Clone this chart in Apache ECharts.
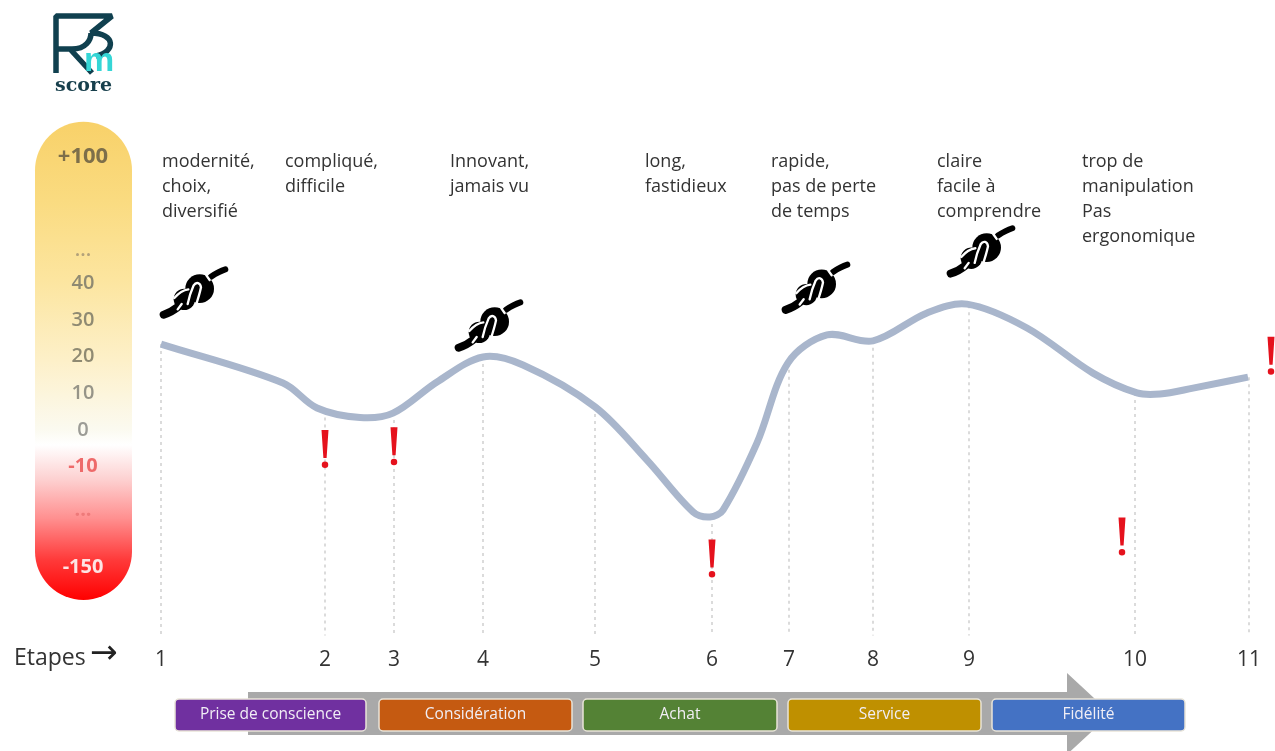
<!DOCTYPE html>
<html lang="fr">
<head>
<meta charset="utf-8">
<title>R3m score</title>
<style>
html,body{margin:0;padding:0;background:#fff}
#chart{width:1275px;height:751px}
</style>
<script src="https://cdn.jsdelivr.net/npm/echarts@6/dist/echarts.min.js"></script>
</head>
<body>
<div id="chart"></div>
<script>
// Parcours client : étapes, score de satisfaction et verbatims.
const stepLabels = ['1','2','3','4','5','6','7','8','9','10','11'];
const stepPos = [0,164,233,322,434,551,628,712,808,974,1088];
const stepScore = [23.4,5.3,4.6,19.9,6.3,-23.7,18.3,24.3,34.0,10.1,14.4];

const curvePos = [0,122,156,199,232,276,322,362,434,486,532,549,562,596,627,666,712,766,806,866,932,976,999,1032,1087];
const curveScore = [23.4,12.8,6.0,3.4,4.6,13.1,19.9,17.7,6.3,-8.2,-22.3,-23.7,-21.8,-3.5,18.3,25.9,24.3,31.9,34.3,27.8,15.5,10.1,9.8,11.4,14.4];

const commentTexts = [
  'modernité,\nchoix,\ndiversifié',
  'compliqué,\ndifficile',
  'Innovant,\njamais vu',
  'long,\nfastidieux',
  'rapide,\npas de perte\nde temps',
  'claire\nfacile à\ncomprendre',
  'trop de\nmanipulation\nPas\nergonomique'
];
const commentPos = [1,124,289,484,610,776,921];
const commentLevel = [76.4,76.4,76.4,76.4,76.4,76.4,76.4];

const knotPos = [34,329,656,821];
const knotLevel = [37.6,28.6,38.9,48.8];

const alertPos = [164,233,551,961,1110];
const alertLevel = [-5.2,-4.4,-35,-29,20.2];

const scaleLabels = ['+100','...','40','30','20','10','0','-10','...','-150'];
const scaleLevels = [74.4,49,40,30,20,10,0,-10,-22,-37.5];
const scaleSizes = [22,20,20,20,20,20,20,20,20,20];
const scaleColors = ['#7d6f4a','#b3a27a','#8f8a72','#8f8a72','#8f8a72','#969488','#9c9c96','#ee6a6a','#ee7a7a','#fde4e4'];
const gaugeTop = 84;
const gaugeBottom = -46.3;
const gaugeLeft = -126;
const gaugeRight = -29;
const gaugeCenter = -78;

const stageNames = ['Prise de conscience','Considération','Achat','Service','Fidélité'];
const stageStart = [14,218,422,627,831];
const stageEnd = [205,411,616,820,1024];
const stageColors = ['#7030a0','#c55a11','#548235','#bf9000','#4472c4'];
const stageTop = -73.3;
const stageBottom = -82;

const arrowPoints = [[87,-71.4],[906,-71.4],[906,-66.2],[950,-77.3],[906,-88.4],[906,-83.1],[87,-83.1]];

const bodyFont = '"Open Sans", sans-serif';

const knotTailLow = 'M-94 68C-76 62-62 54-50 44';
const knotTailHigh = 'M48-46C60-54 72-62 91-68';
const knotLines = 'M-22 36C-18 16-12-2-4-20C4-32 16-28 18-14C14 6 8 24 2 42M-62 18C-50 4-36-6-20-8M-52 52L-40 36M34-50L44-36';
const alertShape = 'path://M0.5 0H7.5L5.6 28H2.4ZM4 31.5A3.2 3.2 0 1 1 4 38A3.2 3.2 0 1 1 4 31.5Z';

// Trace une spline cubique passant par les points de la courbe, exprimés en pixels.
function splinePath(pts){
  const n=pts.length,t=[0];
  for(let i=1;i<n;i++) t[i]=t[i-1]+Math.hypot(pts[i][0]-pts[i-1][0],pts[i][1]-pts[i-1][1]);
  const slope=i=>{
    const a=pts[Math.max(i-1,0)],b=pts[Math.min(i+1,n-1)],dt=t[Math.min(i+1,n-1)]-t[Math.max(i-1,0)];
    return [(b[0]-a[0])/dt,(b[1]-a[1])/dt];
  };
  let d='M'+pts[0][0]+' '+pts[0][1];
  for(let i=0;i<n-1;i++){
    const h=(t[i+1]-t[i])/3,m0=slope(i),m1=slope(i+1);
    d+='C'+(pts[i][0]+m0[0]*h)+' '+(pts[i][1]+m0[1]*h)+' '+(pts[i+1][0]-m1[0]*h)+' '+(pts[i+1][1]-m1[1]*h)+' '+pts[i+1][0]+' '+pts[i+1][1];
  }
  return d;
}

const chart = echarts.init(document.getElementById('chart'), null, {renderer:'canvas'});

chart.setOption({
  animation:false,
  backgroundColor:'#ffffff',
  grid:{left:0,top:99.7,width:1275,height:535.82},
  xAxis:{
    type:'value',min:-161,max:1114,
    axisLine:{show:false},axisTick:{show:false},splitLine:{show:false},
    axisLabel:{
      customValues:stepPos,
      margin:14,fontSize:21,color:'#333333',fontFamily:bodyFont,
      formatter:v=>stepLabels[stepPos.indexOf(v)]
    }
  },
  yAxis:{
    type:'value',min:-56,max:90,
    axisLine:{show:false},axisTick:{show:false},splitLine:{show:false},
    axisLabel:{show:false}
  },
  graphic:[
    {type:'text',left:14,top:647,style:{text:'Etapes',fontSize:23,fontFamily:bodyFont,fill:'#333'}},
    {type:'text',left:90,top:638,style:{text:'→',fontSize:33,fontFamily:'"DejaVu Sans"',fill:'#222'}}
  ],
  series:[
    { // échelle de score
      type:'custom',z:1,silent:true,clip:false,
      data:[[gaugeLeft,gaugeTop]],
      renderItem:(p,api)=>{
        const a=api.coord([gaugeLeft,gaugeTop]),b=api.coord([gaugeRight,gaugeBottom]);
        const w=b[0]-a[0];
        return {type:'rect',shape:{x:a[0],y:a[1],width:w,height:b[1]-a[1],r:w/2},style:{
          fill:new echarts.graphic.LinearGradient(0,0,0,1,[
            {offset:0,color:'#f8d169'},{offset:.163,color:'#fadb80'},{offset:.33,color:'#fce59f'},
            {offset:.5,color:'#fdf0c9'},{offset:.644,color:'#fbfaf0'},{offset:.676,color:'#ffffff'},
            {offset:.749,color:'#fdd0d0'},{offset:.83,color:'#ff8f8f'},{offset:.916,color:'#ff3a3a'},
            {offset:1,color:'#ff0000'}])
        }};
      }
    },
    { // graduations de l'échelle
      type:'custom',z:2,silent:true,clip:false,
      data:scaleLevels.map(v=>[gaugeCenter,v]),
      renderItem:(p,api)=>{
        const i=p.dataIndex,c=api.coord([gaugeCenter,scaleLevels[i]]);
        return {type:'text',style:{text:scaleLabels[i],x:c[0],y:c[1],align:'center',verticalAlign:'middle',
          fontSize:scaleSizes[i],fontWeight:(i===0||i>=7)?700:600,fontFamily:bodyFont,fill:scaleColors[i]}};
      }
    },
    { // flèche du parcours
      type:'custom',z:1,silent:true,clip:false,
      data:[[0,0]],
      renderItem:(p,api)=>({type:'polygon',shape:{points:arrowPoints.map(q=>api.coord(q))},style:{fill:'#a9a9a9'}})
    },
    { // phases du parcours
      type:'custom',z:2,silent:true,clip:false,
      data:stageNames.map((n,i)=>[stageStart[i],stageTop]),
      renderItem:(p,api)=>{
        const i=p.dataIndex;
        const a=api.coord([stageStart[i],stageTop]),b=api.coord([stageEnd[i],stageBottom]);
        return {type:'group',children:[
          {type:'rect',shape:{x:a[0],y:a[1],width:b[0]-a[0],height:b[1]-a[1],r:4},
           style:{fill:stageColors[i],stroke:'#e9e4d8',lineWidth:1.5}},
          {type:'text',style:{text:stageNames[i],x:(a[0]+b[0])/2,y:(a[1]+b[1])/2,align:'center',verticalAlign:'middle',
            fontSize:15.5,fontFamily:bodyFont,fill:'#f1eef5'}}
        ]};
      }
    },
    { // repères verticaux des étapes
      type:'line',z:1,silent:true,symbol:'none',
      data:[],
      lineStyle:{width:0},
      markLine:{
        silent:true,symbol:'none',animation:false,z:1,
        label:{show:false},
        lineStyle:{type:[3,4],color:'#cfcfcf',width:1.5},
        data:stepPos.map((x,i)=>[{coord:[x,stepScore[i]]},{coord:[x,-56]}])
      }
    },
    { // courbe de score
      type:'custom',z:3,silent:true,clip:false,
      data:curvePos.map((x,i)=>[x,curveScore[i]]),
      renderItem:(p,api)=>{
        if(p.dataIndex!==0) return null;
        const pts=curvePos.map((x,i)=>api.coord([x,curveScore[i]]));
        return {type:'path',shape:{pathData:splinePath(pts)},style:{fill:'none',stroke:'#a9b6cc',lineWidth:7}};
      }
    },
    { // verbatims
      type:'custom',z:4,silent:true,clip:false,
      data:commentTexts.map((t,i)=>[commentPos[i],commentLevel[i]]),
      renderItem:(p,api)=>{
        const c=api.coord([commentPos[p.dataIndex],commentLevel[p.dataIndex]]);
        return {type:'text',style:{text:commentTexts[p.dataIndex],x:c[0],y:c[1],verticalAlign:'top',align:'left',
          fontSize:18,lineHeight:25,fontFamily:bodyFont,fill:'#333'}};
      }
    },
    { // noeuds : moments forts
      type:'custom',z:4,silent:true,clip:false,
      data:knotPos.map((x,i)=>[x,knotLevel[i]]),
      renderItem:(p,api)=>{
        const c=api.coord([knotPos[p.dataIndex],knotLevel[p.dataIndex]]);
        return {type:'group',x:c[0],y:c[1],scaleX:1/3,scaleY:1/3,children:[
          {type:'circle',shape:{cx:14,cy:-10,r:43},style:{fill:'#000'}},
          {type:'circle',shape:{cx:-32,cy:22,r:32},style:{fill:'#000'}},
          {type:'path',shape:{pathData:knotTailLow},style:{fill:'none',stroke:'#000',lineWidth:24,lineCap:'round'}},
          {type:'path',shape:{pathData:knotTailHigh},style:{fill:'none',stroke:'#000',lineWidth:18,lineCap:'round'}},
          {type:'path',shape:{pathData:knotLines},style:{fill:'none',stroke:'#fff',lineWidth:7,lineCap:'round'}}
        ]};
      }
    },
    { // points d'alerte
      type:'scatter',z:4,silent:true,symbol:alertShape,symbolSize:[7,38],clip:false,
      itemStyle:{color:'#e5121d',opacity:1},
      data:alertPos.map((x,i)=>[x,alertLevel[i]])
    },
    { // logo
      type:'custom',z:4,silent:true,clip:false,
      data:[[0,0]],
      renderItem:()=>({type:'group',children:[
        {type:'path',shape:{pathData:'M56 73V16H112L91 33C116 33 116 52 96 56M56 49H72C86 49 91 40 91 33M70 49L92 73'},
         style:{fill:'none',stroke:'#10404f',lineWidth:5.5,lineJoin:'bevel'}},
        {type:'text',style:{text:'m',x:99,y:62,align:'center',verticalAlign:'middle',fontSize:34,fontWeight:'bold',fontFamily:'"Liberation Sans"',fill:'#35d6d6'}},
        {type:'text',style:{text:'score',x:83.5,y:86,align:'center',verticalAlign:'middle',fontSize:19,fontWeight:'bold',fontFamily:'"DejaVu Serif"',fill:'#173f4c'}}
      ]})
    }
  ]
});
</script>
</body>
</html>
